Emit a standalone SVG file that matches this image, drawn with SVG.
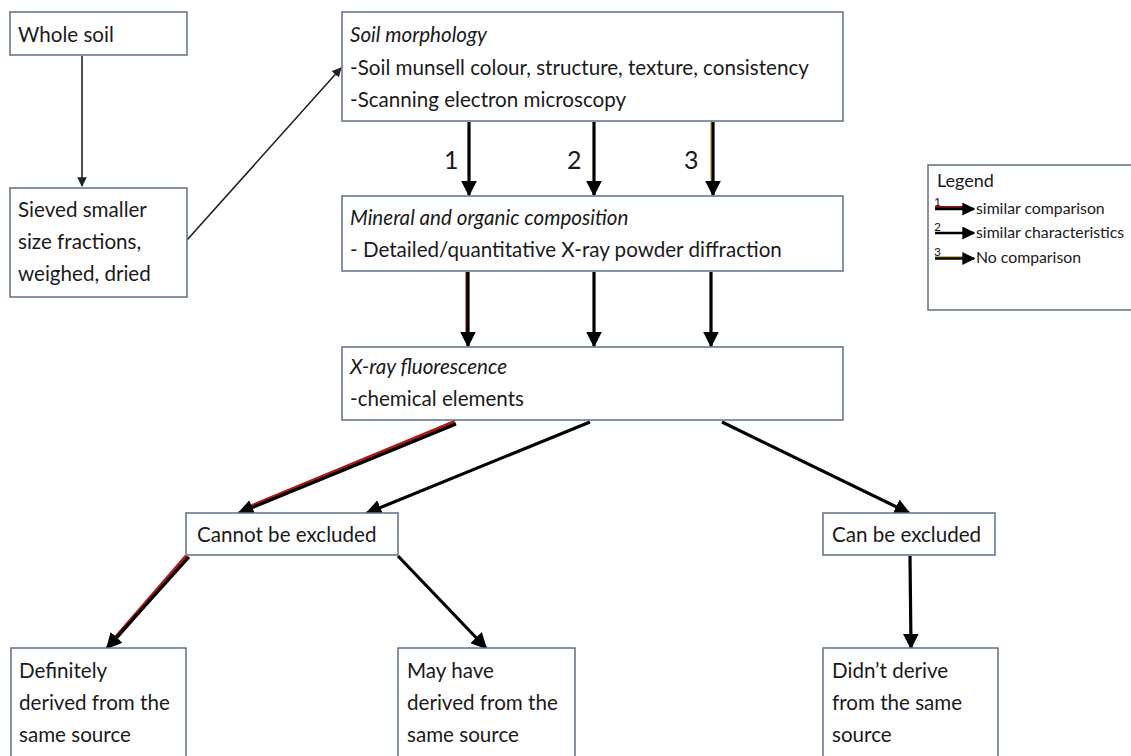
<svg xmlns="http://www.w3.org/2000/svg" width="1131" height="756" viewBox="0 0 1131 756">
<defs>
<marker id="ah" viewBox="0 0 10 10" refX="9" refY="5" markerWidth="5" markerHeight="5" markerUnits="strokeWidth" orient="auto">
<path d="M0,0 L10,5 L0,10 z" fill="#000"/>
</marker>
<marker id="ahs" viewBox="0 0 10 10" refX="9" refY="5" markerWidth="6" markerHeight="6" markerUnits="strokeWidth" orient="auto">
<path d="M0,0 L10,5 L0,10 z" fill="#222"/>
</marker>
</defs>
<style>
.box{fill:#fff;stroke:#5f7088;stroke-width:1.5}
.t{font-family:Lato,"Open Sans",sans-serif;font-size:20.6px;fill:#1a1a1a}
.i{font-style:italic}
.c{stroke:#000;stroke-width:3.2;fill:none}
.thin{stroke:#222;stroke-width:1.6;fill:none}
.red{stroke:#b01818;stroke-width:4.5;fill:none}
.num{font-family:Lato,"Open Sans",sans-serif;font-size:25px;fill:#1a1a1a}
.lt{font-family:Lato,"Open Sans",sans-serif;font-size:15.8px;fill:#1a1a1a}
.ln{font-family:Lato,"Open Sans",sans-serif;font-size:12px;fill:#1a1a1a}
</style>
<rect width="1131" height="756" fill="#fff"/>
<g id="connectors">
<line class="thin" x1="82" y1="56" x2="82" y2="186" marker-end="url(#ahs)"/>
<line class="thin" x1="187" y1="240" x2="341" y2="68" marker-end="url(#ahs)"/>
<line class="c" x1="469" y1="122" x2="469" y2="195" marker-end="url(#ah)"/>
<line class="c" x1="594" y1="122" x2="594" y2="195" marker-end="url(#ah)"/>
<line stroke="#d8c870" stroke-width="2" x1="711" y1="122" x2="711" y2="185"/>
<line class="c" x1="713" y1="122" x2="713" y2="195" marker-end="url(#ah)"/>
<line stroke="#8a1010" stroke-width="2" x1="466.5" y1="272" x2="466.5" y2="335"/>
<line class="c" x1="468" y1="272" x2="468" y2="346" marker-end="url(#ah)"/>
<line class="c" x1="594" y1="272" x2="594" y2="346" marker-end="url(#ah)"/>
<line class="c" x1="711" y1="272" x2="711" y2="346" marker-end="url(#ah)"/>
<line class="red" x1="455" y1="422" x2="248" y2="508"/>
<line class="c" x1="456" y1="424" x2="239" y2="513" marker-end="url(#ah)"/>
<line class="c" x1="590" y1="422" x2="367" y2="513" marker-end="url(#ah)"/>
<line class="c" x1="722" y1="422" x2="909" y2="513" marker-end="url(#ah)"/>
<line class="red" x1="187" y1="556" x2="114" y2="640"/>
<line class="c" x1="189" y1="557" x2="107" y2="648" marker-end="url(#ah)"/>
<line class="c" x1="398" y1="556" x2="486" y2="648" marker-end="url(#ah)"/>
<line class="c" x1="910" y1="556" x2="911" y2="648" marker-end="url(#ah)"/>
</g>
<g id="n-whole">
<rect class="box" x="10" y="12" width="177" height="43"/>
<text class="t" x="18" y="42">Whole soil</text>
</g>
<g id="n-sieved">
<rect class="box" x="10" y="188" width="177" height="109"/>
<text class="t" x="18" y="217">Sieved smaller</text>
<text class="t" x="18" y="249">size fractions,</text>
<text class="t" x="18" y="281">weighed, dried</text>
</g>
<g id="n-morph">
<rect class="box" x="342" y="12" width="501" height="109"/>
<text class="t i" x="350" y="42">Soil morphology</text>
<text class="t" x="350" y="75">-Soil munsell colour, structure, texture, consistency</text>
<text class="t" x="350" y="107">-Scanning electron microscopy</text>
</g>
<g id="labels">
<text class="num" x="444" y="169">1</text>
<text class="num" x="567" y="169">2</text>
<text class="num" x="684" y="169">3</text>
</g>
<g id="n-mineral">
<rect class="box" x="342" y="196" width="501" height="75"/>
<text class="t i" x="350" y="225">Mineral and organic composition</text>
<text class="t" x="350" y="257">- Detailed/quantitative X-ray powder diffraction</text>
</g>
<g id="n-xrf">
<rect class="box" x="342" y="347" width="501" height="73"/>
<text class="t i" x="350" y="374">X-ray fluorescence</text>
<text class="t" x="350" y="406">-chemical elements</text>
</g>
<g id="n-cannot">
<rect class="box" x="186" y="513" width="212" height="42"/>
<text class="t" x="197" y="542">Cannot be excluded</text>
</g>
<g id="n-can">
<rect class="box" x="823" y="513" width="172" height="42"/>
<text class="t" x="832" y="542">Can be excluded</text>
</g>
<g id="n-definitely">
<rect class="box" x="11" y="648" width="175" height="112"/>
<text class="t" x="19" y="678">Definitely</text>
<text class="t" x="19" y="710">derived from the</text>
<text class="t" x="19" y="742">same source</text>
</g>
<g id="n-may">
<rect class="box" x="398" y="648" width="177" height="112"/>
<text class="t" x="407" y="678">May have</text>
<text class="t" x="407" y="710">derived from the</text>
<text class="t" x="407" y="742">same source</text>
</g>
<g id="n-didnt">
<rect class="box" x="823" y="648" width="175" height="112"/>
<text class="t" x="832" y="678">Didn’t derive</text>
<text class="t" x="832" y="710">from the same</text>
<text class="t" x="832" y="742">source</text>
</g>
<g id="legend">
<rect class="box" x="928" y="165" width="210" height="145"/>
<text class="t" x="937" y="187" style="font-size:18px">Legend</text>
<text class="ln" x="934" y="206">1</text>
<line stroke="#8a1010" stroke-width="3" x1="935" y1="207.5" x2="966" y2="207.5"/>
<line stroke="#000" stroke-width="2.6" x1="935" y1="209" x2="974" y2="209" marker-end="url(#ah)"/>
<text class="lt" x="976" y="214">similar comparison</text>
<text class="ln" x="934" y="231">2</text>
<line stroke="#000" stroke-width="2.6" x1="935" y1="233" x2="974" y2="233" marker-end="url(#ah)"/>
<text class="lt" x="976" y="238">similar characteristics</text>
<text class="ln" x="934" y="256">3</text>
<line stroke="#c8b860" stroke-width="2" x1="935" y1="257" x2="966" y2="257"/>
<line stroke="#000" stroke-width="2.6" x1="935" y1="258.5" x2="974" y2="258.5" marker-end="url(#ah)"/>
<text class="lt" x="976" y="263">No comparison</text>
</g>
</svg>
